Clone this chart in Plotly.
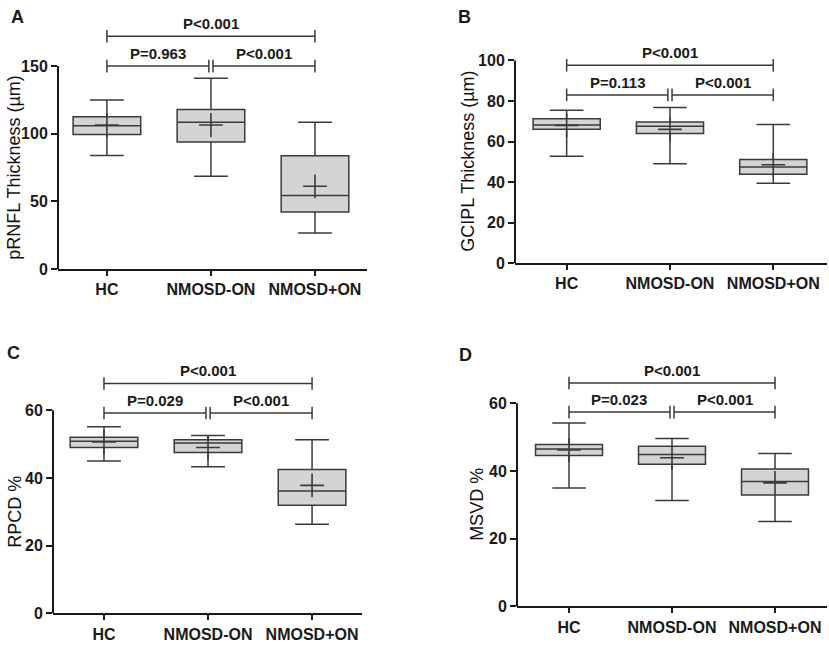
import plotly.graph_objects as go

groups = ["HC", "NMOSD-ON", "NMOSD+ON"]

# panel A - pRNFL
a_low = [84, 68.7, 26.7]
a_q1 = [99.5, 94, 42.2]
a_med = [106, 108.5, 54.4]
a_q3 = [112.6, 118, 83.8]
a_high = [125, 141, 108.5]
a_mean = [106.5, 106.5, 61.2]
a_p = ["P=0.963", "P<0.001", "P<0.001"]
a_brk = [150, 172]

# panel B - GCIPL
b_low = [52.7, 49.1, 39.4]
b_q1 = [66.1, 64, 43.9]
b_med = [68.2, 67.6, 47.5]
b_q3 = [71.3, 69.7, 51.2]
b_high = [75.4, 76.8, 68.4]
b_mean = [68, 66, 48.6]
b_p = ["P=0.113", "P<0.001", "P<0.001"]
b_brk = [83, 97.6]

# panel C - RPCD
c_low = [45, 43.3, 26.3]
c_q1 = [49, 47.5, 31.9]
c_med = [50.8, 50.3, 36.1]
c_q3 = [52, 51.3, 42.5]
c_high = [55.1, 52.5, 51.3]
c_mean = [50.6, 49, 37.8]
c_p = ["P=0.029", "P<0.001", "P<0.001"]
c_brk = [59.2, 67.9]

# panel D - MSVD
d_low = [35, 31.3, 25.1]
d_q1 = [44.6, 42, 32.9]
d_med = [46.5, 44.9, 36.9]
d_q3 = [47.8, 47.3, 40.6]
d_high = [54.2, 49.6, 45.2]
d_mean = [46.2, 43.9, 36.5]
d_p = ["P=0.023", "P<0.001", "P<0.001"]
d_brk = [57.4, 66]

W, H = 829, 645
DARK = "#1a1a1a"
BOXLINE = "#3a3a3a"
FILL = "#d4d4d4"
FONT = "Liberation Sans, Arial, sans-serif"


def px_x(p):
    return p / W


def px_y(p):
    return 1 - p / H


panels = [
    dict(letter="A", title="pRNFL Thickness (µm)", data=(a_low, a_q1, a_med, a_q3, a_high, a_mean),
         p=a_p, brk=a_brk, xpx=(58, 367), ypx=(273, 32.7), yr=[0, 175], xr=[-0.47, 2.5],
         ytop=150, dtick=50, lpos=(17, 17), tx=14),
    dict(letter="B", title="GCIPL Thickness (µm)", data=(b_low, b_q1, b_med, b_q3, b_high, b_mean),
         p=b_p, brk=b_brk, xpx=(515, 827), ypx=(267, 30.4), yr=[0, 115], xr=[-0.5, 2.52],
         ytop=100, dtick=20, lpos=(464, 17), tx=468),
    dict(letter="C", title="RPCD %", data=(c_low, c_q1, c_med, c_q3, c_high, c_mean),
         p=c_p, brk=c_brk, xpx=(53, 362), ypx=(622, 381.7), yr=[0, 70], xr=[-0.49, 2.48],
         ytop=60, dtick=20, lpos=(13, 358), tx=15),
    dict(letter="D", title="MSVD %", data=(d_low, d_q1, d_med, d_q3, d_high, d_mean),
         p=d_p, brk=d_brk, xpx=(517, 827), ypx=(615, 374.7), yr=[0, 70], xr=[-0.505, 2.505],
         ytop=60, dtick=20, lpos=(465, 360), tx=477),
]

fig = go.Figure()
pos = [0, 1, 2]
shapes = []
annotations = []

for i, pn in enumerate(panels):
    n = "" if i == 0 else str(i + 1)
    xa, ya = "x" + n, "y" + n
    low, q1, med, q3, high, mean = pn["data"]

    fig.add_trace(go.Box(
        x=pos, lowerfence=low, q1=q1, median=med, q3=q3, upperfence=high,
        width=0.65, whiskerwidth=0.5, fillcolor=FILL,
        line=dict(color=BOXLINE, width=1.5), boxpoints=False,
        hoverinfo="skip", xaxis=xa, yaxis=ya, showlegend=False))

    fig.add_trace(go.Scatter(
        x=pos, y=mean, mode="markers", xaxis=xa, yaxis=ya, showlegend=False,
        marker=dict(symbol="cross-thin", size=17, line=dict(width=1.6, color=BOXLINE))))

    # significance brackets
    lo, hi = pn["brk"]
    spans = [(0, 0.98, lo), (1.02, 2, lo), (0, 2, hi)]
    for (x0, x1, h), label in zip(spans, pn["p"]):
        fig.add_trace(go.Scatter(
            x=[x0, x1], y=[h, h], mode="lines+markers", xaxis=xa, yaxis=ya,
            showlegend=False, hoverinfo="skip", cliponaxis=False,
            line=dict(color=BOXLINE, width=1.5),
            marker=dict(symbol="line-ns", size=9, line=dict(width=1.5, color=BOXLINE))))
        annotations.append(dict(
            x=(x0 + x1) / 2, y=h, xref=xa, yref=ya, text=label, showarrow=False,
            yanchor="bottom", yshift=2, font=dict(family=FONT, size=15, color=DARK, weight="bold")))

    # y axis line only up to the top tick
    shapes.append(dict(type="line", xref=xa + " domain", yref=ya, x0=0, x1=0, y0=0, y1=pn["ytop"],
                       line=dict(color=DARK, width=2)))

    x0p, x1p = pn["xpx"]
    ybot, ytopp = pn["ypx"]
    fig.update_layout({
        "xaxis" + n: dict(domain=[px_x(x0p), px_x(x1p)], range=pn["xr"], anchor=ya,
                          tickvals=pos, ticktext=groups, ticks="outside", ticklen=5,
                          tickwidth=2, tickcolor=DARK, showline=True, linewidth=2,
                          linecolor=DARK, showgrid=False, zeroline=False,
                          tickfont=dict(family=FONT, size=16, color=DARK, weight="bold")),
        "yaxis" + n: dict(domain=[px_y(ybot), px_y(ytopp)], range=pn["yr"], anchor=xa,
                          tickvals=list(range(0, pn["ytop"] + 1, pn["dtick"])),
                          ticks="outside", ticklen=6, tickwidth=2, tickcolor=DARK,
                          showline=False, showgrid=False, zeroline=False,
                          tickfont=dict(family=FONT, size=16, color=DARK, weight="bold")),
    })

    lx, ly = pn["lpos"]
    annotations.append(dict(x=px_x(lx), y=px_y(ly), xref="paper", yref="paper", text=pn["letter"],
                            xanchor="center", yanchor="middle", showarrow=False,
                            font=dict(family=FONT, size=18, color=DARK, weight="bold")))
    ymid = ybot - pn["ytop"] * (ybot - ytopp) / pn["yr"][1] / 2
    annotations.append(dict(x=px_x(pn["tx"]), y=px_y(ymid), xref="paper", yref="paper",
                            text=pn["title"], textangle=-90, xanchor="center", yanchor="middle",
                            showarrow=False, font=dict(family=FONT, size=18, color="#111111")))

fig.update_layout(width=W, height=H, margin=dict(l=0, r=0, t=0, b=0),
                  plot_bgcolor="white", paper_bgcolor="white",
                  shapes=shapes, annotations=annotations)

fig.write_html("out.html", config={"displayModeBar": False},
               post_script="document.body.style.margin='0';")
